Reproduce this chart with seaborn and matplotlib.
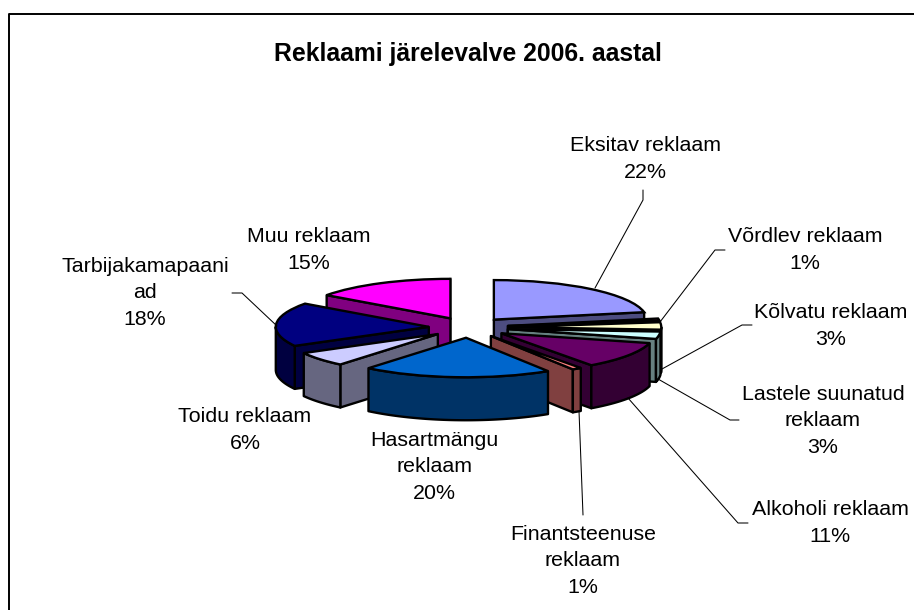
import numpy as np
import seaborn as sns
import matplotlib
matplotlib.use('Agg')
import matplotlib.pyplot as plt

# slices, clockwise from 12 o'clock
names = ['Eksitav reklaam', 'Võrdlev reklaam', 'Kõlvatu reklaam', 'Lastele suunatud\nreklaam',
         'Alkoholi reklaam', 'Finantsteenuse\nreklaam', 'Hasartmängu\nreklaam', 'Toidu reklaam',
         'Tarbijakamapaani\nad', 'Muu reklaam']
shares = [22, 1, 3, 3, 11, 1, 20, 6, 18, 15]
top_colors = ['#9999FF', '#993366', '#FFFFCC', '#CCFFFF', '#660066',
              '#FF8080', '#0066CC', '#CCCCFF', '#000080', '#FF00FF']
side_colors = ['#4D4D80', '#4D1A33', '#808066', '#668080', '#330033',
               '#804040', '#003366', '#666680', '#000040', '#800080']
title = 'Reklaami järelevalve 2006. aastal'

# pixel layout of the picture
W, H = 914, 610
cx, cy = 468.5, 327.5
rx, ry = 153.0, 39.5
depth = 43.0 / ry
explode = 0.26
edge_lw = 1.7
label_pos = [(645, 159), (805, 250), (831, 326), (823, 421), (830, 523),
             (583, 561), (434, 467), (245, 430), (145, 293), (309, 250)]
leaders = [[(643, 190), (643, 200), (595, 288)],
           [(725, 250), (715, 250), (660, 322)],
           [(752, 325), (742, 325), (662, 369)],
           [(739, 420), (730, 420), (658, 379)],
           [(748, 523), (738, 523), (628, 398)],
           [(583, 515), (579, 411)],
           [(232, 293), (242, 293), (277, 326)]]

sns.set_theme(style='white')
plt.rcParams['font.family'] = ['Liberation Sans', 'DejaVu Sans']

fig = plt.figure(figsize=(W / 100, H / 100), dpi=100)
ax = fig.add_axes([0, 0, 1, 1])

wedges, _ = ax.pie(shares, colors=sns.color_palette(top_colors), startangle=90, counterclock=False,
                   explode=[explode] * len(shares), radius=1,
                   wedgeprops={'edgecolor': 'black', 'linewidth': edge_lw})


def wall(xs, ys, color, z):
    # extrude the top edge straight down the picture
    xs = np.asarray(xs)
    ys = np.asarray(ys)
    ax.fill(np.r_[xs, xs[::-1]], np.r_[ys, ys[::-1] - depth], facecolor=color,
            edgecolor='black', linewidth=edge_lw, joinstyle='round', zorder=z)


# paint the slices from back to front
mid_sin = [np.sin(np.radians((w.theta1 + w.theta2) / 2)) for w in wedges]
order = np.argsort(mid_sin)[::-1]
for rank, i in enumerate(order):
    w = wedges[i]
    x0, y0 = w.center
    z = 3 + rank * 2
    t1, t2 = w.theta1, w.theta2
    if np.cos(np.radians(t1)) > 0:
        a = np.radians(t1)
        wall([x0, x0 + np.cos(a)], [y0, y0 + np.sin(a)], side_colors[i], z)
    if np.cos(np.radians(t2)) < 0:
        a = np.radians(t2)
        wall([x0, x0 + np.cos(a)], [y0, y0 + np.sin(a)], side_colors[i], z)
    a1, a2 = max(t1, -180), min(t2, 0)
    if a1 < a2:
        t = np.radians(np.linspace(a1, a2, 60))
        wall(x0 + np.cos(t), y0 + np.sin(t), side_colors[i], z)
    w.set_zorder(z + 1)

ax.set_aspect('auto')
ax.set_xlim(-cx / rx, (W - cx) / rx)
ax.set_ylim((cy - H) / ry, cy / ry)
ax.axis('off')


def fx(x):
    return x / W


def fy(y):
    return 1 - y / H


for name, share, (lx, ly) in zip(names, shares, label_pos):
    fig.text(fx(lx), fy(ly), f'{name}\n{share}%', ha='center', va='center',
             fontsize=15.4, color='black', linespacing=1.53)

for pts in leaders:
    xs = [fx(p[0]) for p in pts]
    ys = [fy(p[1]) for p in pts]
    fig.add_artist(plt.Line2D(xs, ys, color='black', linewidth=0.75, zorder=1))

fig.text(fx(468), fy(54), title, ha='center', va='center', fontsize=17.8, fontweight='bold', color='black')

# chart frame, cut off on the right and at the bottom
fig.add_artist(plt.Line2D([fx(9), fx(9), fx(914)], [fy(610), fy(14), fy(14)], color='black', linewidth=1.4))

fig.savefig('out.png', dpi=100)
